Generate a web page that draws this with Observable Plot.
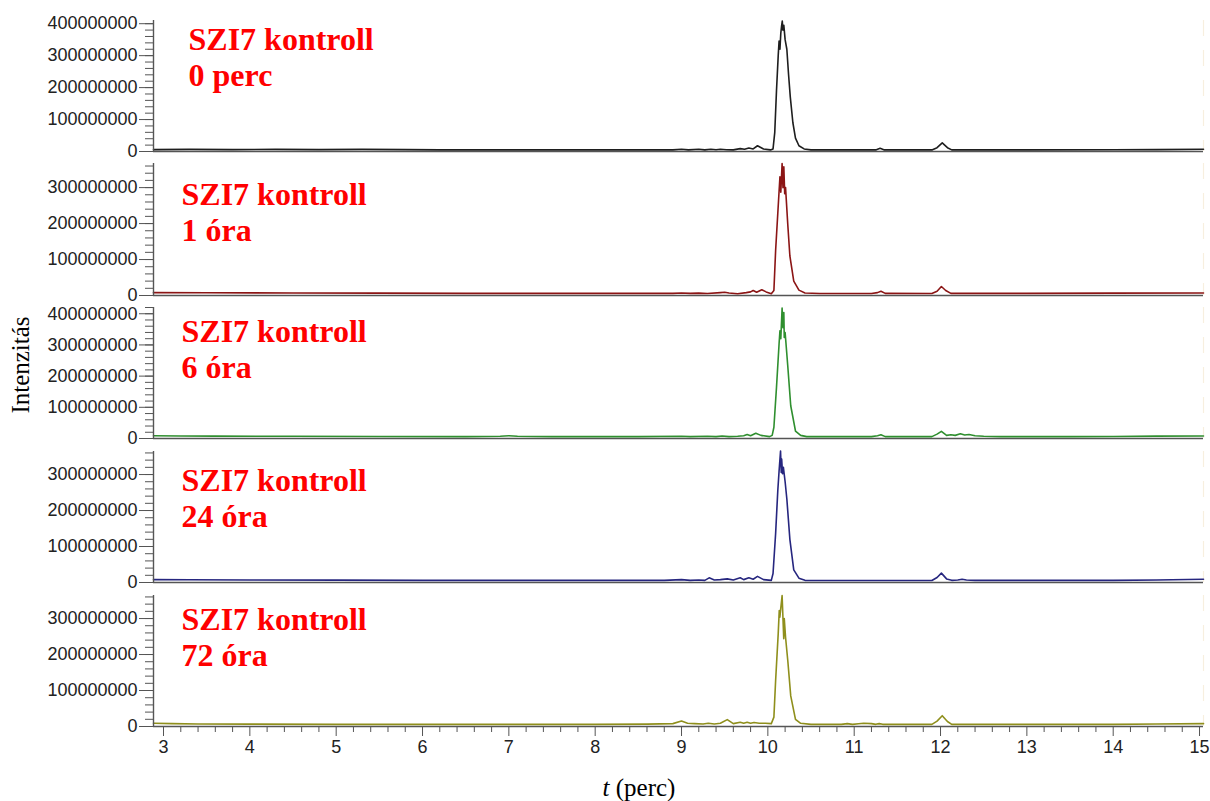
<!DOCTYPE html>
<html>
<head>
<meta charset="utf-8">
<script src="https://cdn.jsdelivr.net/npm/d3@7"></script>
<script src="https://cdn.jsdelivr.net/npm/@observablehq/plot@0.6"></script>
<style>
  body { margin: 0; background: #fff; }
  #chart { position: relative; width: 1210px; height: 801px; overflow: hidden; background: #fff; }
  #chart svg { position: absolute; left: 0; }
  .ylab { position: absolute; left: 21px; top: 365px; transform: translate(-50%, -50%) rotate(-90deg);
          font-family: "Liberation Serif", "Times New Roman", serif; font-size: 25px; white-space: nowrap; color: #000; }
  .xlab { position: absolute; left: 639px; top: 788px; transform: translate(-50%, -50%);
          font-family: "Liberation Serif", "Times New Roman", serif; font-size: 25px; white-space: nowrap; color: #000; }
</style>
</head>
<body>
<div id="chart">
  <div class="ylab">Intenzitás</div>
  <div class="xlab"><i>t</i> (perc)</div>
</div>
<script>
// ---------- data (intensity in millions) ----------
const labelLine1 = ["SZI7 kontroll", "SZI7 kontroll", "SZI7 kontroll", "SZI7 kontroll", "SZI7 kontroll"];
const labelLine2 = ["0 perc", "1 óra", "6 óra", "24 óra", "72 óra"];
const seriesColors = ["#1e1e1e", "#8b1515", "#2f8f2f", "#26267f", "#8f8f1c"];

const yMajorTicks = [0, 100, 200, 300, 400];
const xMajorTicks = [3, 4, 5, 6, 7, 8, 9, 10, 11, 12, 13, 14, 15];

// panel 1: 0 perc
const t0 = [2.884, 3.3, 3.8, 4.3, 4.8, 5.3, 5.8, 6.2, 7.0, 7.5, 8.0, 8.5, 8.9, 9.0, 9.08, 9.2, 9.27, 9.34, 9.4, 9.45, 9.52, 9.6, 9.68, 9.73, 9.78, 9.83, 9.88, 9.95, 10.03, 10.06, 10.08, 10.1, 10.12, 10.13, 10.14, 10.15, 10.16, 10.167, 10.175, 10.185, 10.2, 10.22, 10.24, 10.26, 10.29, 10.32, 10.36, 10.42, 10.5, 11.0, 11.25, 11.3, 11.35, 11.9, 11.96, 12.02, 12.08, 12.13, 13.0, 14.0, 14.5, 15.046];
const v0 = [6, 6.5, 6, 6.5, 6, 6.5, 6, 5, 5, 5, 5, 5, 5, 7, 5, 7, 5, 7, 5.5, 7, 5.5, 5, 9, 7, 11, 8, 18, 8, 5, 8, 60, 190, 300, 346, 320, 370, 395, 408, 380, 395, 350, 320, 240, 170, 90, 42, 18, 8, 5, 5, 5, 10, 5, 5, 12, 27, 12, 5, 5, 5.5, 6, 7];

// panel 2: 1 óra
const t1 = [2.884, 3.5, 4.5, 5.5, 6.5, 7.5, 8.5, 8.9, 9.0, 9.1, 9.2, 9.3, 9.45, 9.5, 9.55, 9.65, 9.75, 9.8, 9.83, 9.87, 9.93, 9.98, 10.04, 10.07, 10.09, 10.115, 10.13, 10.14, 10.15, 10.165, 10.175, 10.185, 10.195, 10.205, 10.23, 10.255, 10.3, 10.36, 10.43, 10.6, 11.2, 11.27, 11.31, 11.36, 11.9, 11.96, 12.01, 12.06, 12.12, 13.0, 14.0, 15.046];
const v1 = [8, 7.5, 7, 6.5, 6, 6, 6, 6, 7, 6, 6.5, 5.5, 8, 9, 7, 5, 8, 10, 14, 9, 16, 10, 5, 14, 125, 228, 290, 330, 287, 367, 300, 358, 283, 300, 200, 110, 40, 15, 7, 5.5, 5.5, 8, 12, 6, 5.5, 12, 25, 14, 6, 6, 6.5, 7];

// panel 3: 6 óra
const t2 = [2.884, 3.2, 3.6, 4.5, 5.5, 6.5, 6.9, 7.0, 7.1, 7.5, 8.5, 9.0, 9.1, 9.3, 9.4, 9.47, 9.55, 9.65, 9.72, 9.76, 9.8, 9.86, 9.92, 10.02, 10.05, 10.07, 10.1, 10.13, 10.14, 10.15, 10.165, 10.175, 10.185, 10.19, 10.2, 10.23, 10.265, 10.32, 10.38, 10.45, 11.2, 11.27, 11.31, 11.36, 11.9, 11.96, 12.01, 12.07, 12.12, 12.17, 12.23, 12.28, 12.33, 12.4, 12.5, 12.7, 13.5, 14.0, 14.5, 15.046];
const v2 = [9, 8, 7.5, 7, 6.5, 6, 7, 9, 7, 6, 6, 7, 6, 7, 6, 8, 6, 7, 9, 13, 9, 17, 10, 6, 10, 36, 164, 304, 345, 320, 418, 355, 404, 324, 340, 235, 105, 24, 10, 6, 6, 9, 12, 6, 6, 14, 23, 10, 12, 10, 15, 11, 13, 9, 7, 6, 6, 6.5, 7.5, 8];

// panel 4: 24 óra
const t3 = [2.884, 3.3, 4.0, 5.0, 6.0, 7.0, 8.0, 8.8, 9.0, 9.1, 9.2, 9.27, 9.32, 9.38, 9.45, 9.53, 9.6, 9.68, 9.72, 9.78, 9.83, 9.88, 9.95, 10.04, 10.06, 10.09, 10.115, 10.13, 10.147, 10.155, 10.16, 10.17, 10.18, 10.2, 10.22, 10.255, 10.3, 10.36, 10.43, 11.0, 11.9, 11.96, 12.01, 12.07, 12.13, 12.2, 12.25, 12.3, 12.4, 13.0, 14.0, 14.5, 15.046];
const v3 = [8, 7.5, 7, 6.5, 6, 6, 6, 6, 8, 6, 7, 6, 13, 7, 8, 10, 7, 13, 8, 13, 9, 17, 8, 6, 25, 136, 255, 310, 365, 306, 343, 302, 320, 280, 232, 120, 35, 12, 6, 5.5, 5.5, 14, 26, 10, 6, 7, 9, 7, 6, 6, 6, 7, 9];

// panel 5: 72 óra
const t4 = [2.884, 3.1, 3.4, 4.0, 5.0, 6.0, 7.0, 8.0, 8.6, 8.9, 9.0, 9.07, 9.15, 9.25, 9.31, 9.38, 9.45, 9.53, 9.6, 9.68, 9.72, 9.76, 9.8, 9.84, 9.9, 9.97, 10.04, 10.07, 10.09, 10.12, 10.132, 10.139, 10.165, 10.184, 10.19, 10.205, 10.232, 10.265, 10.32, 10.38, 10.5, 10.85, 10.92, 10.98, 11.05, 11.11, 11.2, 11.25, 11.29, 11.33, 11.9, 11.96, 12.02, 12.08, 12.13, 13.0, 14.0, 14.5, 15.046];
const v4 = [9, 8, 7, 6.5, 6, 6, 6, 6, 6.5, 8, 15, 9, 8, 7, 9, 7, 9, 19, 8, 12, 9, 12, 9, 11, 9, 9, 8, 26, 128, 258, 322, 304, 364, 244, 300, 248, 180, 85, 20, 9, 6, 6, 8, 6, 7.5, 9, 8, 6, 8, 6, 6, 15, 30, 14, 6, 6, 6, 7, 8];

const times = [t0, t1, t2, t3, t4];
const values = [v0, v1, v2, v3, v4];

// ---------- layout ----------
const xDomain = [2.884, 15.046];
const layout = [
  {top: 20,  zero: 151, max: 410, dx: 35, dy: 3},
  {top: 163, zero: 295, max: 367, dx: 28, dy: 15},
  {top: 307, zero: 438, max: 420, dx: 28, dy: 8},
  {top: 451, zero: 582, max: 364, dx: 28, dy: 13},
  {top: 595, zero: 726, max: 364, dx: 28, dy: 8}
];

const fmt = d3.format("d");
const minorY = d3.range(0, 421, 20);
const xMinorTicks = d3.range(3, 15.01, 0.2).map(d => Math.round(d * 10) / 10).filter(d => Math.abs(d - Math.round(d)) > 0.01);
const chart = document.getElementById("chart");

layout.forEach((L, i) => {
  const last = i === layout.length - 1;
  const mt = 14, mb = last ? 62 : 8;
  const height = mt + (L.zero - L.top) + mb;
  const data = times[i].map((t, k) => ({t, v: values[i][k]}));
  const marks = [
    Plot.ruleX([xDomain[1]], {stroke: "#f7efdf", strokeWidth: 1.2, strokeDasharray: "16,14"}),
    Plot.ruleY([0], {stroke: "#555", strokeWidth: 1.4}),
    Plot.line(data, {x: "t", y: "v", stroke: seriesColors[i], strokeWidth: 1.6}),
    Plot.ruleX([xDomain[0]], {stroke: "#555", strokeWidth: 1.4}),
    Plot.axisY({ticks: minorY.filter(d => d <= L.max), tickSize: 8, tickFormat: () => "", stroke: "#555", label: null}),
    Plot.axisY({ticks: yMajorTicks.filter(d => d <= L.max), tickSize: 14, tickPadding: 2, fontSize: 18,
                tickFormat: d => fmt(d * 1e6), stroke: "#555", fill: "#222", label: null}),
    Plot.text([labelLine1[i] + "\n" + labelLine2[i]], {
      text: d => d, frameAnchor: "top-left", textAnchor: "start", lineAnchor: "top",
      dx: L.dx, dy: L.dy, fontSize: 32, fontWeight: "bold", lineHeight: 1.15,
      fontFamily: "Liberation Serif, Times New Roman, serif", fill: "#ff0000"
    })
  ];
  if (last) {
    marks.push(
      Plot.axisX({ticks: xMinorTicks, tickSize: 6, tickFormat: () => "", stroke: "#555", label: null}),
      Plot.axisX({ticks: xMajorTicks, tickSize: 10, tickPadding: 4, fontSize: 18, stroke: "#555", fill: "#222", label: null})
    );
  }
  const svg = Plot.plot({
    width: 1210,
    height,
    marginTop: mt,
    marginBottom: mb,
    marginLeft: 153,
    marginRight: 7,
    style: {fontFamily: "Liberation Sans, Arial, sans-serif", fontSize: "18px", overflow: "visible", background: "transparent"},
    x: {domain: xDomain, axis: last ? undefined : null, label: null},
    y: {domain: [0, L.max], label: null},
    marks
  });
  svg.style.top = (L.top - mt) + "px";
  chart.appendChild(svg);
});
</script>
</body>
</html>
